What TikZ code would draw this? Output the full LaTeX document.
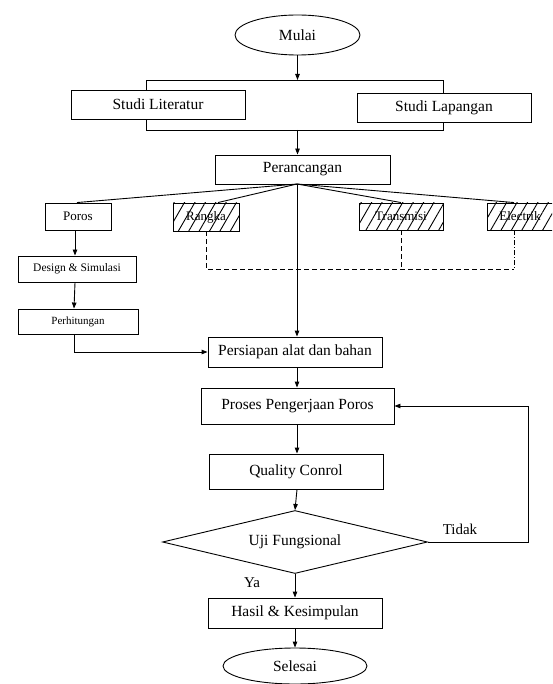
\documentclass[tikz,border=0pt]{standalone}
\usepackage{fontspec}
\setmainfont{Liberation Serif}
\usetikzlibrary{shapes.geometric,arrows.meta,patterns.meta,calc}
\tikzset{
  box/.style={draw, line width=0.9pt, inner sep=0pt, font=\fontsize{15.5}{18}\selectfont},
  smallbox/.style={draw, line width=0.9pt, inner sep=0pt, font=\fontsize{11.5}{13}\selectfont},
  hatchbox/.style={draw, line width=0.9pt, inner sep=0pt, font=\fontsize{13}{15}\selectfont,
    pattern={Lines[angle=60,distance=9pt,line width=0.9pt]}},
  oval/.style={draw, ellipse, line width=0.9pt, inner sep=0pt, font=\fontsize{15.5}{18}\selectfont},
  conn/.style={line width=0.9pt},
  arr/.style={line width=0.9pt, -{Triangle[length=6pt,width=4.5pt]}},
  dashline/.style={line width=0.9pt, dash pattern=on 5pt off 3pt},
  lbl/.style={font=\fontsize{15}{18}\selectfont, inner sep=0pt}
}
\begin{document}
\begin{tikzpicture}[x=1pt,y=-1pt]
\useasboundingbox (0,0) rectangle (552,684);
\clip (0,0) rectangle (552,684);
\fill[white] (0,0) rectangle (552,684);

% nodes
\node[oval, minimum width=125pt, minimum height=40pt] (mulai) at (297.5,35) {Mulai};
\node[box, minimum width=174pt, minimum height=29pt] (lit) at (158,104.5) {Studi Literatur};
\node[box, minimum width=174pt, minimum height=29pt] (lap) at (444,107.5) {Studi Lapangan};
\node[box, minimum width=175pt, minimum height=29pt] (per) at (302.5,169.5) {Perancangan};

\node[box, font=\fontsize{13}{15}\selectfont, minimum width=66pt, minimum height=27pt] (poros) at (78,216.5) {Poros};
\node[hatchbox, minimum width=66pt, minimum height=28pt] (rangka) at (206,217) {Rangka};
\node[hatchbox, minimum width=84pt, minimum height=27pt] (trans) at (401,216.5) {Transmisi};
\node[hatchbox, minimum width=66pt, minimum height=27pt] (elec) at (520,216.5) {Electrik};

\node[smallbox, minimum width=118pt, minimum height=26pt] (design) at (77,269) {Design \& Simulasi};
\node[smallbox, font=\fontsize{11}{13}\selectfont, minimum width=120pt, minimum height=25pt] (hit) at (78,321.5) {Perhitungan};

\node[box, minimum width=174pt, minimum height=30pt] (siap) at (295,352) {Persiapan alat dan bahan};
\node[box, minimum width=193pt, minimum height=36pt] (proses) at (297.5,406) {Proses Pengerjaan Poros};
\node[box, minimum width=174pt, minimum height=35pt] (qc) at (296,471.5) {Quality Conrol};
\node[draw, diamond, aspect=4.2, line width=0.9pt, inner sep=0pt, minimum width=265pt, minimum height=63pt,
  font=\fontsize{15.5}{18}\selectfont] (uji) at (295,542) {Uji Fungsional};
\node[box, minimum width=174pt, minimum height=30pt] (hasil) at (295,613) {Hasil \& Kesimpulan};
\node[oval, minimum width=144pt, minimum height=36pt] (selesai) at (295,666) {Selesai};

\node[lbl] (tidak) at (460,529) {Tidak};
\node[lbl] (ya) at (252,583) {Ya};

% coordinates
\coordinate (bt) at (297.5,80);
\coordinate (btl) at (146,80);
\coordinate (btr) at (443,80);
\coordinate (bb) at (297.5,130);
\coordinate (bbl) at (146,130);
\coordinate (bbr) at (443,130);
\coordinate (fan) at (297,184);
\coordinate (dl) at (206,269);
\coordinate (dr) at (514,269);
\coordinate (hc) at (74,352);
\coordinate (rt) at (528,406);

% connectors
\draw[arr] (mulai.south) -- (bt);
\draw[conn] (lit.north -| btl) -- (btl) -- (btr) -- (lap.north -| btr);
\draw[conn] (lit.south -| bbl) -- (bbl) -- (bbr) -- (lap.south -| bbr);
\draw[arr] (bb) -- (bb |- per.north);

\draw[conn] (fan) -- ([xshift=-1pt]poros.north);
\draw[conn] (fan) -- ([xshift=12pt]rangka.north);
\draw[conn] (fan) -- (trans.north);
\draw[conn] (fan) -- ([xshift=-6pt]elec.north);
\draw[arr] (fan) -- (fan |- siap.north);

\draw[dashline] (rangka.south) -- (dl) -- (dr);
\draw[dashline] (trans.south) -- (trans.south |- dl);
\draw[line width=0.9pt, dash pattern=on 5pt off 2pt on 1pt off 2pt] ([xshift=-6pt]elec.south) -- (dr);

\draw[arr] ([xshift=-3pt]poros.south) -- ([xshift=-2pt]design.north);
\draw[arr] ([xshift=-2pt]design.south) -- ([xshift=-4pt]hit.north);
\draw[arr] ([xshift=-4pt]hit.south) -- (hc) -- (siap.west);

\draw[arr] (siap.south -| fan) -- (proses.north -| fan);
\draw[arr] (proses.south -| fan) -- (qc.north -| fan);
\draw[arr] (qc.south -| fan) -- (uji.north);
\draw[arr] (uji.east) -| (rt) -- (proses.east |- rt);
\draw[arr] (uji.south) -- (hasil.north);
\draw[arr] (hasil.south) -- (selesai.north);
\end{tikzpicture}
\end{document}
